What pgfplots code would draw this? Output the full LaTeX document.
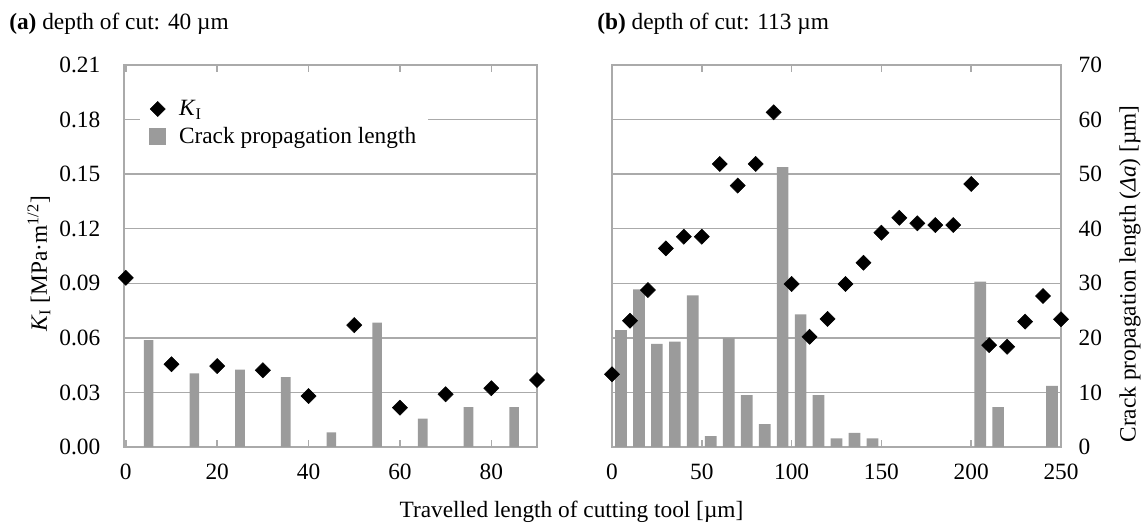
\documentclass[border=0pt]{standalone}
\usepackage{pgfplots}
\pgfplotsset{compat=1.18}
\usepackage{fontspec}
\setmainfont{Liberation Serif}
\definecolor{barc}{RGB}{155,155,155}
\definecolor{gridc}{RGB}{170,170,170}
\newcommand\fs{\fontsize{17.5}{21}\selectfont}

\pgfplotsset{
  panel/.style={
    scale only axis, anchor=south west, height=286.5pt,
    ymin=0, clip=false,
    /pgf/number format/assume math mode=true,
    tick label style={font=\fs},
    y tick style={draw=none},
    x tick style={draw=gridc, line width=1.1pt},
    major tick length=5pt, tick align=inside,
    xticklabel style={yshift=-9pt},
  },
  bars/.style={panel, ymax=70, ytick={0,10,...,70},
    ymajorgrids, grid style={gridc, line width=1.1pt},
    axis line style={draw=gridc, line width=1.1pt},
    axis on top=false},
  kI/.style={panel, ymax=0.21, xtick=\empty,
    axis line style={draw=none}},
  diam/.style={only marks, mark=square*, mark size=4pt, black,
    mark options={rotate=45}},
}

\begin{document}
\begin{tikzpicture}
\path[use as bounding box] (0,0) rectangle (856.5pt,396pt);

% (a) depth 40
\begin{axis}[bars, at={(93pt,60.75pt)}, width=309.75pt,
  xmin=-0.4, xmax=90, xtick={0,20,...,80}, yticklabels={}]
\addplot[ybar, bar width=2.1, fill=barc, draw=none] coordinates {
  (5,19.6) (15,13.5) (25,14.2) (35,12.8) (45,2.7)
  (55,22.8) (65,5.2) (75,7.3) (85,7.3)
};
\end{axis}
\begin{axis}[kI, at={(93pt,60.75pt)}, width=309.75pt,
  xmin=-0.4, xmax=90,
  ytick={0,0.03,0.06,0.09,0.12,0.15,0.18,0.21},
  yticklabel style={xshift=-14.3pt, /pgf/number format/fixed,
    /pgf/number format/fixed zerofill, /pgf/number format/precision=2},
  legend style={at={(0.039,0.922)}, anchor=north west, draw=none,
    fill=white, font=\fs, inner xsep=7pt, inner ysep=2pt,
    legend cell align=left, row sep=3pt}]
\addplot[diam] coordinates {
  (0,0.093) (10,0.0455) (20,0.0445) (30,0.0422) (40,0.028)
  (50,0.067) (60,0.0216) (70,0.029) (80,0.0323) (90,0.0368)
};
\addlegendentry{\hspace{8pt}\textit{K}\textsubscript{I}}
\addlegendimage{only marks, mark=square*, mark size=6pt, barc}
\addlegendentry{\hspace{8pt}Crack propagation length\hspace{12pt}}
\end{axis}

% (b) depth 113
\begin{axis}[bars, at={(459pt,60.75pt)}, width=336.75pt,
  xmin=0, xmax=250, xtick={0,50,...,250},
  yticklabel pos=right, yticklabel style={xshift=9.75pt}]
\addplot[ybar, bar width=6.5, fill=barc, draw=none] coordinates {
  (5,21.4) (15,28.9) (25,18.9) (35,19.3) (45,27.8) (55,2.0)
  (65,20.0) (75,9.5) (85,4.2) (95,51.3) (105,24.3) (115,9.5)
  (125,1.6) (135,2.6) (145,1.6) (205,30.3) (215,7.3) (245,11.2)
};
\end{axis}
\begin{axis}[kI, at={(459pt,60.75pt)}, width=336.75pt,
  xmin=0, xmax=250, ytick=\empty]
\addplot[diam] coordinates {
  (0,0.040) (10,0.0694) (20,0.0863) (30,0.1092) (40,0.1156)
  (50,0.1156) (60,0.1556) (70,0.1437) (80,0.1556) (90,0.184)
  (100,0.0896) (110,0.0606) (120,0.0704) (130,0.0896) (140,0.1013)
  (150,0.1178) (160,0.126) (170,0.123) (180,0.122) (190,0.122)
  (200,0.1446) (210,0.056) (220,0.0551) (230,0.0689) (240,0.083)
  (250,0.0702)
};
\end{axis}

% titles and labels
\node[anchor=base west, font=\fs, inner sep=0pt] at (6.75pt,373.5pt)
  {\textbf{(a)} depth of cut: 40 µm};
\node[anchor=base west, font=\fs, inner sep=0pt] at (447.75pt,373.5pt)
  {\textbf{(b)} depth of cut: 113 µm};
\node[anchor=base, font=\fs, inner sep=0pt] at (428.6pt,7.5pt)
  {Travelled length of cutting tool [µm]};
\node[rotate=90, font=\fs, inner sep=0pt] at (29.25pt,198pt)
  {\textit{K}\textsubscript{I} [MPa·m\textsuperscript{1/2}]};
\node[rotate=90, font=\fs, inner sep=0pt] at (847.5pt,190.5pt)
  {Crack propagation length (\textit{Δa}) [µm]};
\end{tikzpicture}
\end{document}
